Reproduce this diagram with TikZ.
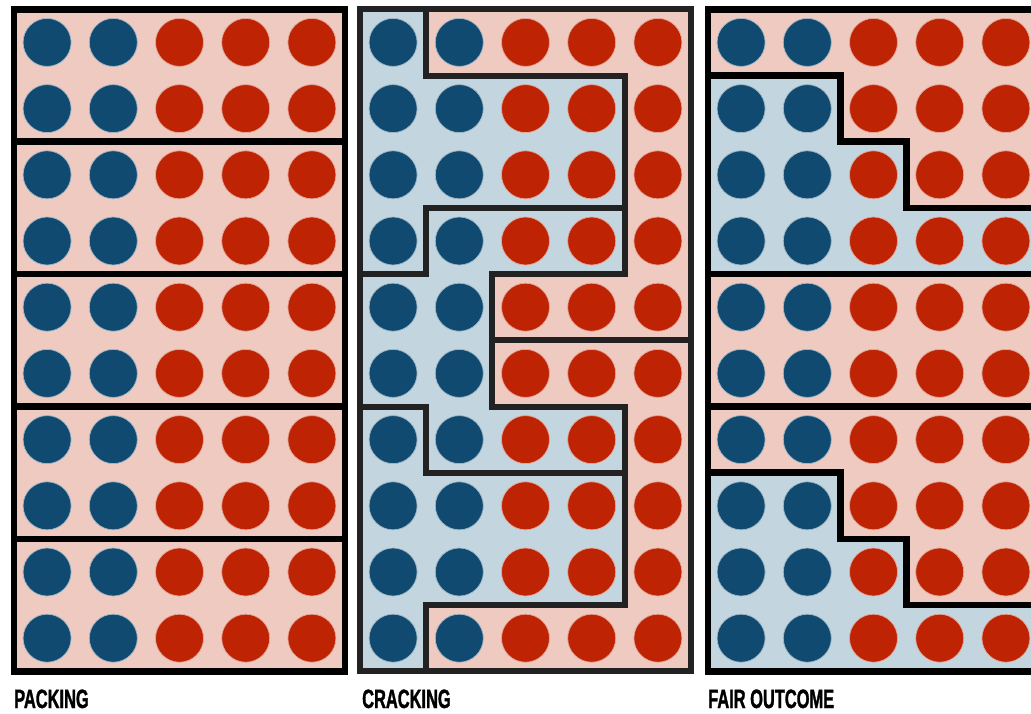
\documentclass[tikz,border=0pt]{standalone}
\usepackage{fontspec}
\newfontfamily\titlefont{Liberation Sans}[FakeStretch=0.62, FakeBold=1.2]

\definecolor{pinkbg}{RGB}{239,202,192}
\definecolor{bluebg}{RGB}{195,214,223}
\definecolor{bluedot}{RGB}{16,74,112}
\definecolor{reddot}{RGB}{190,36,4}
\definecolor{darkline}{RGB}{34,34,34}

\tikzset{
  gridunits/.style={x=66.2pt, y=-66.2pt},
  district/.style={line width=6.5pt, line join=miter, draw=black},
  reddist/.style={district, fill=pinkbg},
  bluedist/.style={district, fill=bluebg},
  crackred/.style={reddist, draw=darkline, line width=6pt},
  crackblue/.style={bluedist, draw=darkline, line width=6pt},
  bdot/.style={fill=bluedot, draw=bluedot!40!white, line width=0.7pt},
  rdot/.style={fill=reddot, draw=reddot!40!white, line width=0.7pt},
  paneltitle/.style={anchor=base west, inner sep=0pt,
    font=\titlefont\bfseries\fontsize{26.5}{26.5}\selectfont}
}

% 10 rows of voters: 2 blue, 3 red in each row
\newcommand{\votergrid}{%
  \foreach \r in {0,...,9} {
    \foreach \c in {0,1} {
      \draw[bdot] (\c+0.5,\r+0.5) circle (24pt);
    }
    \foreach \c in {2,3,4} {
      \draw[rdot] (\c+0.5,\r+0.5) circle (24pt);
    }
  }%
}

\begin{document}
\begin{tikzpicture}[x=1pt, y=-1pt]
  \useasboundingbox (0,0) rectangle (1031,713);
  \clip (0,0) rectangle (1031,713);
  \fill[white] (0,0) rectangle (1031,713);

  % Packing: five stacked districts
  \begin{scope}[xshift=14pt, yshift=-9.3pt, gridunits]
    \foreach \d in {0,2,4,6,8} {
      \draw[reddist] (0,\d) rectangle (5,\d+2);
    }
    \votergrid
  \end{scope}

  % Cracking
  \begin{scope}[xshift=360pt, yshift=-9.3pt, gridunits]
    \draw[crackred] (1,0) -- (5,0) -- (5,5) -- (2,5) -- (2,4) -- (4,4) -- (4,1) -- (1,1) -- cycle;
    \draw[crackblue] (0,0) -- (1,0) -- (1,1) -- (4,1) -- (4,3) -- (1,3) -- (1,4) -- (0,4) -- cycle;
    \draw[crackblue] (1,3) -- (4,3) -- (4,4) -- (2,4) -- (2,6) -- (4,6) -- (4,7) -- (1,7) -- (1,6) -- (0,6) -- (0,4) -- (1,4) -- cycle;
    \draw[crackred] (2,5) -- (5,5) -- (5,10) -- (1,10) -- (1,9) -- (4,9) -- (4,6) -- (2,6) -- cycle;
    \draw[crackblue] (0,6) -- (1,6) -- (1,7) -- (4,7) -- (4,9) -- (1,9) -- (1,10) -- (0,10) -- cycle;
    \votergrid
  \end{scope}

  % Fair outcome
  \begin{scope}[xshift=708pt, yshift=-9.3pt, gridunits]
    \draw[reddist] (0,0) -- (5,0) -- (5,3) -- (3,3) -- (3,2) -- (2,2) -- (2,1) -- (0,1) -- cycle;
    \draw[bluedist] (0,1) -- (2,1) -- (2,2) -- (3,2) -- (3,3) -- (5,3) -- (5,4) -- (0,4) -- cycle;
    \draw[reddist] (0,4) rectangle (5,6);
    \draw[reddist] (0,6) -- (5,6) -- (5,9) -- (3,9) -- (3,8) -- (2,8) -- (2,7) -- (0,7) -- cycle;
    \draw[bluedist] (0,7) -- (2,7) -- (2,8) -- (3,8) -- (3,9) -- (5,9) -- (5,10) -- (0,10) -- cycle;
    \votergrid
  \end{scope}

  % Panel titles
  \node[paneltitle] (packing) at (14,708) {PACKING};
  \node[paneltitle] (cracking) at (362,708) {CRACKING};
  \node[paneltitle] (fair) at (708,708) {FAIR OUTCOME};
\end{tikzpicture}
\end{document}
